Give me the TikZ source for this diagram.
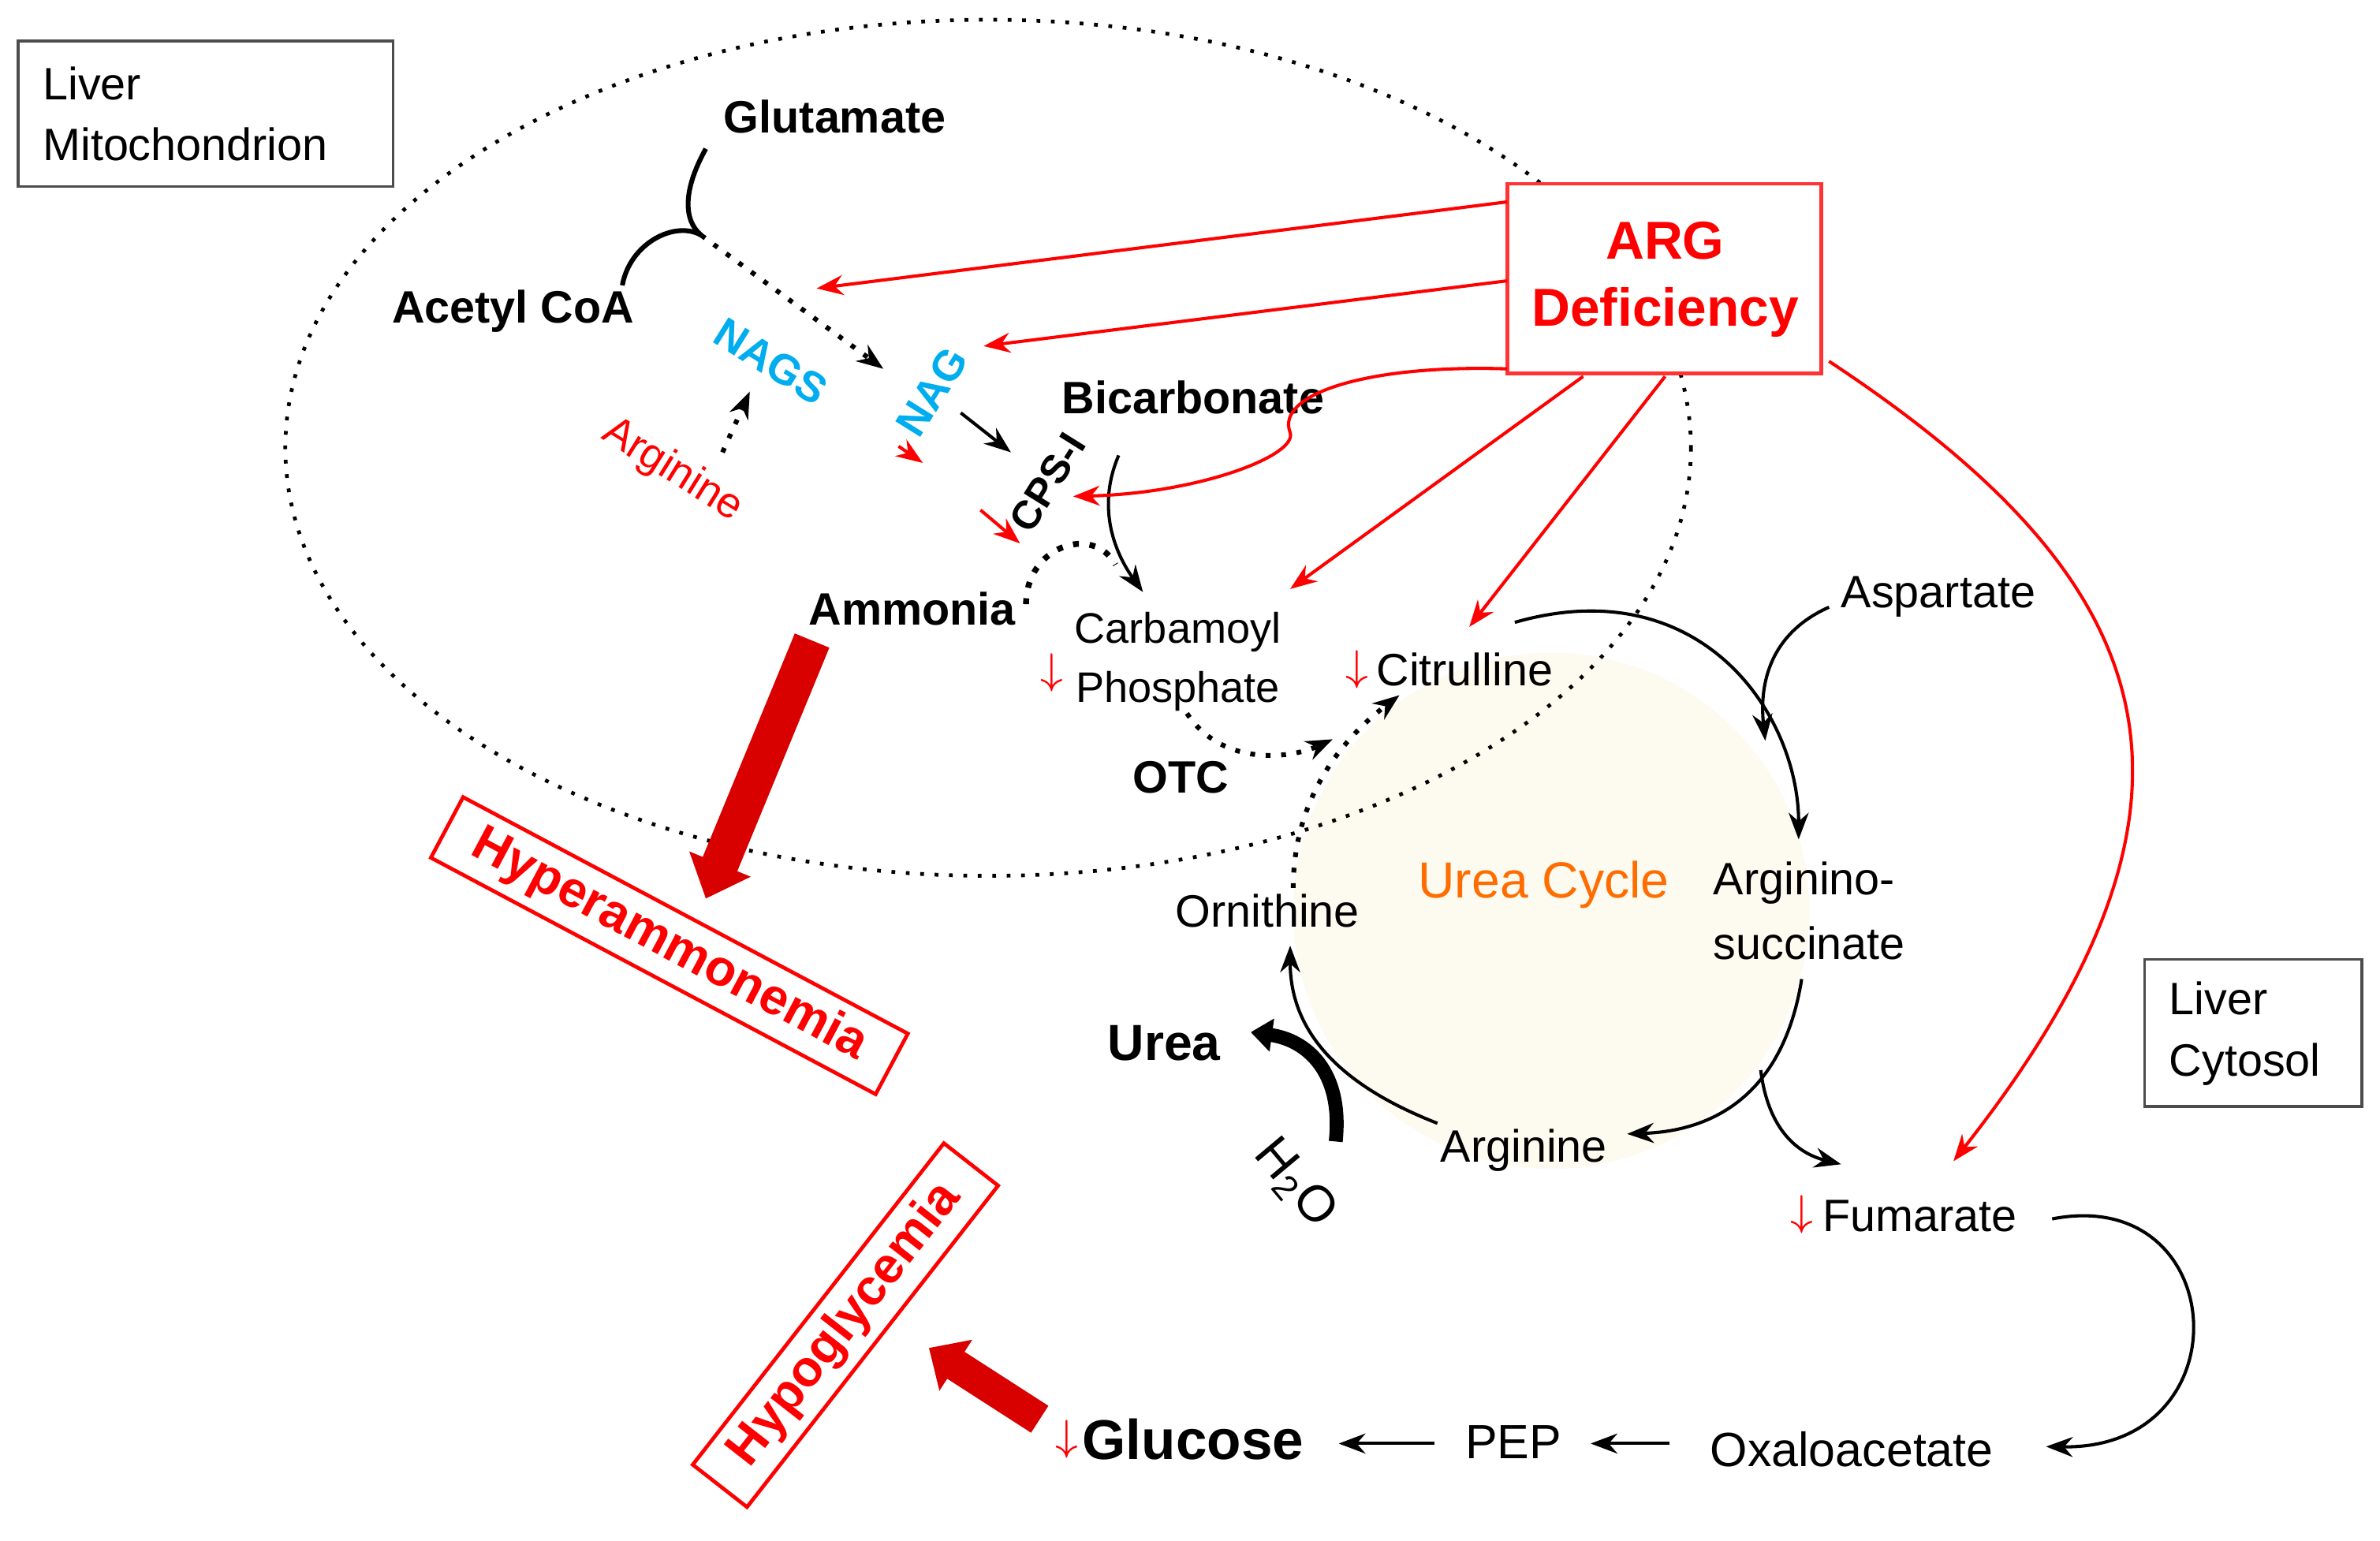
\documentclass[tikz,border=0pt]{standalone}
\usepackage{fontspec}
\setmainfont{Liberation Sans}
\usetikzlibrary{arrows.meta}
\definecolor{cream}{RGB}{253,250,240}
\begin{document}
\begin{tikzpicture}[x=0.01cm,y=-0.01cm,font=\fontsize{8.5}{10}\selectfont,
  lbl/.style={inner sep=1pt},
  bl/.style={inner sep=1pt,font=\fontsize{8.5}{10}\selectfont\bfseries},
  red/.style={draw=red,line width=0.6pt,-{Stealth[length=5pt]}},
  blk/.style={draw=black,line width=0.6pt,-{Stealth[length=5pt]}},
  dot/.style={draw=black,line width=0.9pt,dotted,-{Stealth[length=5pt]}},
  dn/.style={text=red,inner sep=0pt,font=\fontsize{8}{9}\selectfont}]
\useasboundingbox (0,0) rectangle (1568,1015);
\fill[white] (0,0) rectangle (1568,1015);
% urea cycle background
\fill[cream] (1022,600) circle [radius=170];
% mitochondrion
\draw[dotted,line width=0.7pt] (651,295) ellipse [x radius=463, y radius=282];
% boxes
\draw[black!70,line width=0.5pt] (12,27) rectangle (259,123);
\node[lbl,align=left,anchor=west,font=\fontsize{8.5}{11.5}\selectfont] (mito) at (24,75) {Liver\\Mitochondrion};
\draw[black!70,line width=0.5pt] (1413,632) rectangle (1556,729);
\node[lbl,align=left,anchor=west,font=\fontsize{8.5}{11.5}\selectfont] (cyto) at (1425,681) {Liver\\Cytosol};
\draw[red!80,line width=0.7pt,fill=white] (993,121) rectangle (1200,246);
\node[align=center,text=red,font=\fontsize{10}{12.5}\selectfont\bfseries] (arg) at (1097,184) {ARG\\Deficiency};
% labels
\node[bl] (glu) at (550,77) {Glutamate};
\node[bl] (acoa) at (338,205) {Acetyl CoA};
\node[bl,text=cyan,rotate=-32,font=\fontsize{8}{10}\selectfont\bfseries] (nags) at (508,238) {NAGS};
\node[bl,text=cyan,rotate=58,font=\fontsize{8}{10}\selectfont\bfseries] (nag) at (614,258) {NAG};
\node[lbl,text=red,rotate=-32,font=\fontsize{8}{10}\selectfont] (argin) at (443,310) {Arginine};
\node[lbl,font=\fontsize{8.5}{10}\selectfont\bfseries] (bic) at (786,262) {Bicarbonate};
\node[bl,rotate=58,font=\fontsize{7.5}{9}\selectfont\bfseries] (cps) at (690,318) {CPS-I};
\node[bl] (amm) at (601,401) {Ammonia};
\node[lbl,align=center,font=\fontsize{8}{11}\selectfont] (cp) at (776,436) {Carbamoyl\\Phosphate};
\node[dn] (dcp) at (693,443) {$\downarrow$};
\node[lbl] (cit) at (965,441) {Citrulline};
\node[dn] (dcit) at (894,441) {$\downarrow$};
\node[bl] (otc) at (778,512) {OTC};
\node[lbl] (asp) at (1277,393) {Aspartate};
\node[lbl,align=left,font=\fontsize{8.5}{12}\selectfont] (as) at (1192,600) {Arginino-\\succinate};
\node[lbl,text=orange!85!red,font=\fontsize{9.5}{11}\selectfont] (uc) at (1017,583) {Urea Cycle};
\node[lbl] (orn) at (835,600) {Ornithine};
\node[lbl,font=\fontsize{9.5}{11}\selectfont\bfseries] (urea) at (767,687) {Urea};
\node[lbl,rotate=-50,font=\fontsize{9.5}{11}\selectfont] (h2o) at (853,780) {H\textsubscript{2}O};
\node[lbl] (argc) at (1004,758) {Arginine};
\node[lbl] (fum) at (1265,801) {Fumarate};
\node[dn] (dfum) at (1187,800) {$\downarrow$};
\node[lbl,font=\fontsize{9}{11}\selectfont] (oaa) at (1220,955) {Oxaloacetate};
\node[lbl,font=\fontsize{9}{11}\selectfont] (pep) at (997,950) {PEP};
\node[lbl,font=\fontsize{10.5}{12}\selectfont\bfseries] (glc) at (786,948) {Glucose};
\node[dn] (dglc) at (703,948) {$\downarrow$};
\node[draw=red,line width=0.7pt,text=red,rotate=-28,font=\fontsize{9.5}{11}\selectfont\bfseries,inner xsep=6pt,inner ysep=2pt] (hyper) at (441,623) {Hyperammonemia};
\node[draw=red,line width=0.7pt,text=red,rotate=52,font=\fontsize{9.5}{11}\selectfont\bfseries,inner xsep=6pt,inner ysep=2pt] (hypo) at (557,873) {Hypoglycemia};
% NAG synthesis
\coordinate (j) at (462,155);
\draw[line width=0.9pt] (465,98) .. controls (450,125) and (450,145) .. (j);
\draw[line width=0.9pt] (410,188) .. controls (415,160) and (445,145) .. (j);
\draw[dot] (j) -- (582,243);
\draw[dot] (476,298) -- (494,258);
\draw[blk] (633,272) -- (666,298);
\draw[red] (592,294) -- (608,305);
\draw[red] (646,336) -- (672,358);
\draw[blk] (737,300) .. controls (722,335) and (735,365) .. (753,390);
\draw[dotted,line width=1.1pt] (676,398) .. controls (676,360) and (720,345) .. (735,372);
% OTC
\draw[dot] (782,470) .. controls (805,505) and (850,500) .. (878,487);
\draw[dot] (852,585) .. controls (852,530) and (880,490) .. (922,458);
% red arrows from ARG
\draw[red] (993,133) -- (538,190);
\draw[red] (993,185) -- (648,228);
\draw[red] (993,243) .. controls (900,240) and (840,260) .. (850,285) .. controls (855,300) and (790,325) .. (707,327);
\draw[red] (1043,248) -- (850,388);
\draw[red] (1097,248) -- (968,413);
\draw[red] (1205,238) .. controls (1420,380) and (1480,520) .. (1287,765);
% urea cycle
\draw[blk] (998,410) .. controls (1120,375) and (1185,470) .. (1185,553);
\draw[blk] (1205,400) .. controls (1160,420) and (1160,460) .. (1163,488);
\draw[blk] (1187,645) .. controls (1175,720) and (1130,745) .. (1072,747);
\draw[blk] (1160,705) .. controls (1165,745) and (1185,760) .. (1213,767);
\draw[blk] (947,740) .. controls (870,710) and (850,670) .. (850,623);
\draw[line width=2.6pt,-{Triangle[length=4pt,width=6pt]}] (880,752) .. controls (885,705) and (860,685) .. (824,680);
% gluconeogenesis
\draw[blk] (1352,803) .. controls (1470,780) and (1480,955) .. (1348,953);
\draw[blk] (1100,951) -- (1048,951);
\draw[blk] (945,951) -- (882,951);
% big arrows
\draw[red!85!black,line width=7pt,-{Triangle[length=7pt,width=12pt]}] (535,422) -- (465,592);
\draw[red!85!black,line width=6pt,-{Triangle[length=6pt,width=11pt]}] (685,935) -- (612,888);
\end{tikzpicture}
\end{document}
